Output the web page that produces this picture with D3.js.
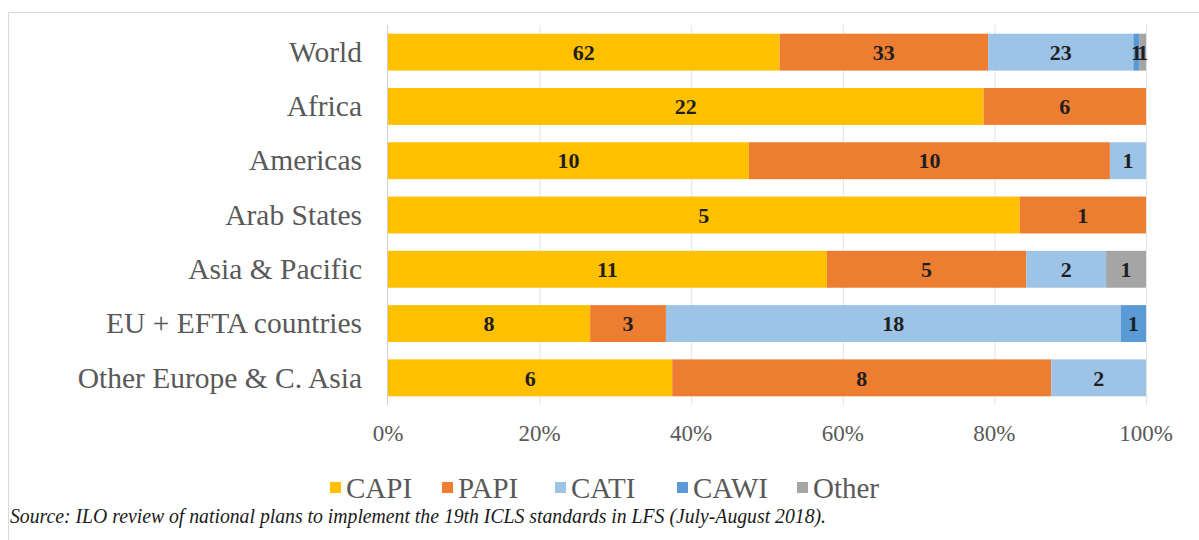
<!DOCTYPE html>
<html>
<head>
<meta charset="utf-8">
<script src="https://cdn.jsdelivr.net/npm/d3@7/dist/d3.min.js"></script>
<style>
  html, body { margin: 0; padding: 0; background: #fff; }
  svg { display: block; }
</style>
</head>
<body>
<svg id="chart" width="1199" height="540"></svg>
<script>
// Data: number of countries by LFS data collection mode
const regions = ['World', 'Africa', 'Americas', 'Arab States', 'Asia & Pacific', 'EU + EFTA countries', 'Other Europe & C. Asia']
const methods = ['CAPI', 'PAPI', 'CATI', 'CAWI', 'Other']
const capi  = [62, 22, 10, 5, 11, 8, 6]
const papi  = [33, 6, 10, 1, 5, 3, 8]
const cati  = [23, 0, 1, 0, 2, 18, 2]
const cawi  = [1, 0, 0, 0, 0, 1, 0]
const other = [1, 0, 0, 0, 1, 0, 0]
const ticks = [0, 0.2, 0.4, 0.6, 0.8, 1]
const colors = ['#FFC000', '#ED7D31', '#9DC3E6', '#5B9BD5', '#A5A5A5']
const source = 'Source: ILO review of national plans to implement the 19th ICLS standards in LFS (July-August 2018).'

const svg = d3.select('#chart')
const serif = '"Liberation Serif", "Times New Roman", serif'

// Build rows for the stack
const rows = regions.map((r, i) => ({
  region: r, CAPI: capi[i], PAPI: papi[i], CATI: cati[i], CAWI: cawi[i], Other: other[i]
}))
const series = d3.stack().keys(methods).offset(d3.stackOffsetExpand)(rows)

const xScale = d3.scaleLinear().domain([0, 1]).range([388, 1146])
const yScale = d3.scaleBand().domain(regions).range([25, 405])
  .paddingInner(0.32).paddingOuter(0.16)
const color = d3.scaleOrdinal().domain(methods).range(colors)

// Outer frame (only top and left edges are visible in the picture)
svg.append('rect')
  .attr('x', 8.5).attr('y', 12.5)
  .attr('width', 1300).attr('height', 600)
  .attr('fill', 'none').attr('stroke', '#d9d9d9')

// Vertical gridlines
svg.append('g')
  .selectAll('line').data(ticks.slice(1)).join('line')
  .attr('x1', d => xScale(d) + 0.5).attr('x2', d => xScale(d) + 0.5)
  .attr('y1', 25).attr('y2', 405)
  .attr('stroke', '#e3e3e3')

// Bars
const layers = svg.append('g').selectAll('g').data(series).join('g')
  .attr('fill', d => color(d.key))
layers.selectAll('rect').data(d => d).join('rect')
  .attr('x', d => xScale(d[0]))
  .attr('y', d => yScale(d.data.region))
  .attr('width', d => xScale(d[1]) - xScale(d[0]))
  .attr('height', yScale.bandwidth())

// Value labels inside segments
svg.append('g').selectAll('g').data(series).join('g')
  .each(function(s) {
    d3.select(this).selectAll('text')
      .data(s.filter(d => d.data[s.key] > 0))
      .join('text')
      .attr('x', d => (xScale(d[0]) + xScale(d[1])) / 2)
      .attr('y', d => yScale(d.data.region) + yScale.bandwidth() / 2)
      .attr('dy', '0.35em')
      .attr('text-anchor', 'middle')
      .style('font-family', serif)
      .style('font-weight', 'bold')
      .style('font-size', '22px')
      .attr('fill', '#1f1f1f')
      .text(d => d.data[s.key])
  })

// Y axis line
svg.append('line')
  .attr('x1', 387.5).attr('x2', 387.5)
  .attr('y1', 25).attr('y2', 405)
  .attr('stroke', '#d0d0d0')

// Category labels
svg.append('g').selectAll('text').data(regions).join('text')
  .attr('x', 362)
  .attr('y', d => yScale(d) + yScale.bandwidth() / 2)
  .attr('dy', '0.33em')
  .attr('text-anchor', 'end')
  .style('font-family', serif)
  .style('font-size', '29.5px')
  .attr('fill', '#595959')
  .text(d => d)

// X tick labels
svg.append('g').selectAll('text').data(ticks).join('text')
  .attr('x', d => xScale(d))
  .attr('y', 441)
  .attr('text-anchor', 'middle')
  .style('font-family', serif)
  .style('font-size', '23px')
  .attr('fill', '#595959')
  .text(d => d3.format('.0%')(d))

// Legend
const legendX = [330, 442, 555, 677, 797]
const legend = svg.append('g').selectAll('g').data(methods).join('g')
  .attr('transform', (d, i) => `translate(${legendX[i]}, 488)`)
legend.append('rect')
  .attr('x', 0).attr('y', -6)
  .attr('width', 11).attr('height', 11)
  .attr('fill', d => color(d))
legend.append('text')
  .attr('x', 16).attr('y', 0)
  .attr('dy', '0.34em')
  .style('font-family', serif)
  .style('font-size', '29px')
  .attr('fill', '#595959')
  .text(d => d)

// Source note
svg.append('text')
  .attr('x', 10).attr('y', 523)
  .attr('textLength', 816).attr('lengthAdjust', 'spacingAndGlyphs')
  .style('font-family', serif)
  .style('font-style', 'italic')
  .style('font-size', '20px')
  .attr('fill', '#1a1a1a')
  .text(source)
</script>
</body>
</html>
